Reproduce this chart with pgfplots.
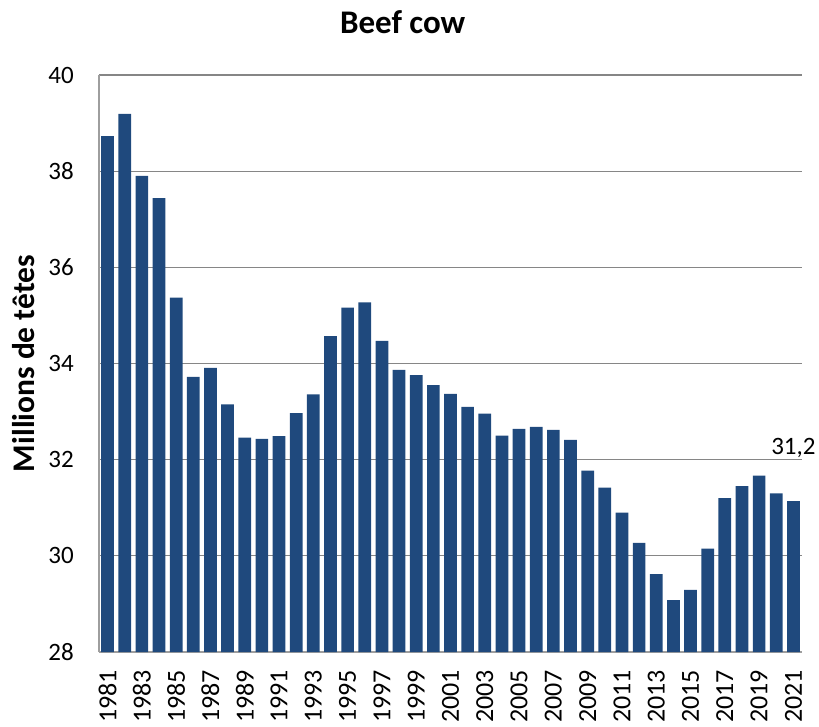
\documentclass[border=0pt]{standalone}
\usepackage{pgfplots}
\pgfplotsset{compat=1.18}
\usepackage{fontspec}
\setmainfont{Carlito}
\definecolor{barblue}{RGB}{31,73,125}
\definecolor{gridgray}{RGB}{134,134,134}
\begin{document}
\begin{tikzpicture}
\begin{axis}[
  scale only axis,
  width=703pt, height=577pt,
  xmin=1980.5, xmax=2021.5,
  ymin=28, ymax=40,
  ytick={28,30,...,40},
  xtick={1981,1983,...,2021},
  /pgf/number format/assume math mode=true,
  /pgf/number format/set thousands separator={},
  xticklabel style={rotate=90, anchor=east, inner sep=0pt, xshift=-18pt, font=\fontsize{26}{29}\selectfont},
  yticklabel style={anchor=east, inner sep=0pt, xshift=-25pt, font=\fontsize{25}{28}\selectfont},
  major tick length=0pt,
  tick style={draw=none},
  axis x line*=bottom,
  axis y line*=left,
  axis line style={draw=gridgray!80, line width=1.3pt},
  ymajorgrids,
  grid style={gridgray, line width=1.3pt},
  title={Beef cow},
  title style={at={(0.432,1)}, anchor=base, yshift=35pt, inner sep=0pt, font=\fontsize{33}{36}\selectfont\bfseries},
  ylabel={Millions de têtes},
  ylabel style={at={(axis description cs:-0.1067,0.5)}, anchor=center, inner sep=0pt, font=\fontsize{31.5}{34}\selectfont\bfseries},
  clip=false,
]
\addplot[ybar, bar width=12.7pt, fill=barblue, draw=none] coordinates {
(1981,38.73) (1982,39.19) (1983,37.90) (1984,37.44) (1985,35.37)
(1986,33.72) (1987,33.91) (1988,33.15) (1989,32.46) (1990,32.43)
(1991,32.49) (1992,32.97) (1993,33.36) (1994,34.57) (1995,35.16)
(1996,35.27) (1997,34.47) (1998,33.87) (1999,33.76) (2000,33.55)
(2001,33.37) (2002,33.10) (2003,32.96) (2004,32.50) (2005,32.64)
(2006,32.68) (2007,32.62) (2008,32.41) (2009,31.77) (2010,31.42)
(2011,30.90) (2012,30.27) (2013,29.62) (2014,29.08) (2015,29.29)
(2016,30.15) (2017,31.20) (2018,31.45) (2019,31.67) (2020,31.30)
(2021,31.14)
};
\node[font=\fontsize{25}{28}\selectfont, inner sep=0pt, anchor=base] at (axis cs:2021,32.10) {31,2};
\coordinate (sw) at (rel axis cs:0,0);
\end{axis}
\pgfresetboundingbox
\path (sw) ++(-99pt,-74pt) rectangle ++(819pt,726pt);
\end{tikzpicture}
\end{document}
